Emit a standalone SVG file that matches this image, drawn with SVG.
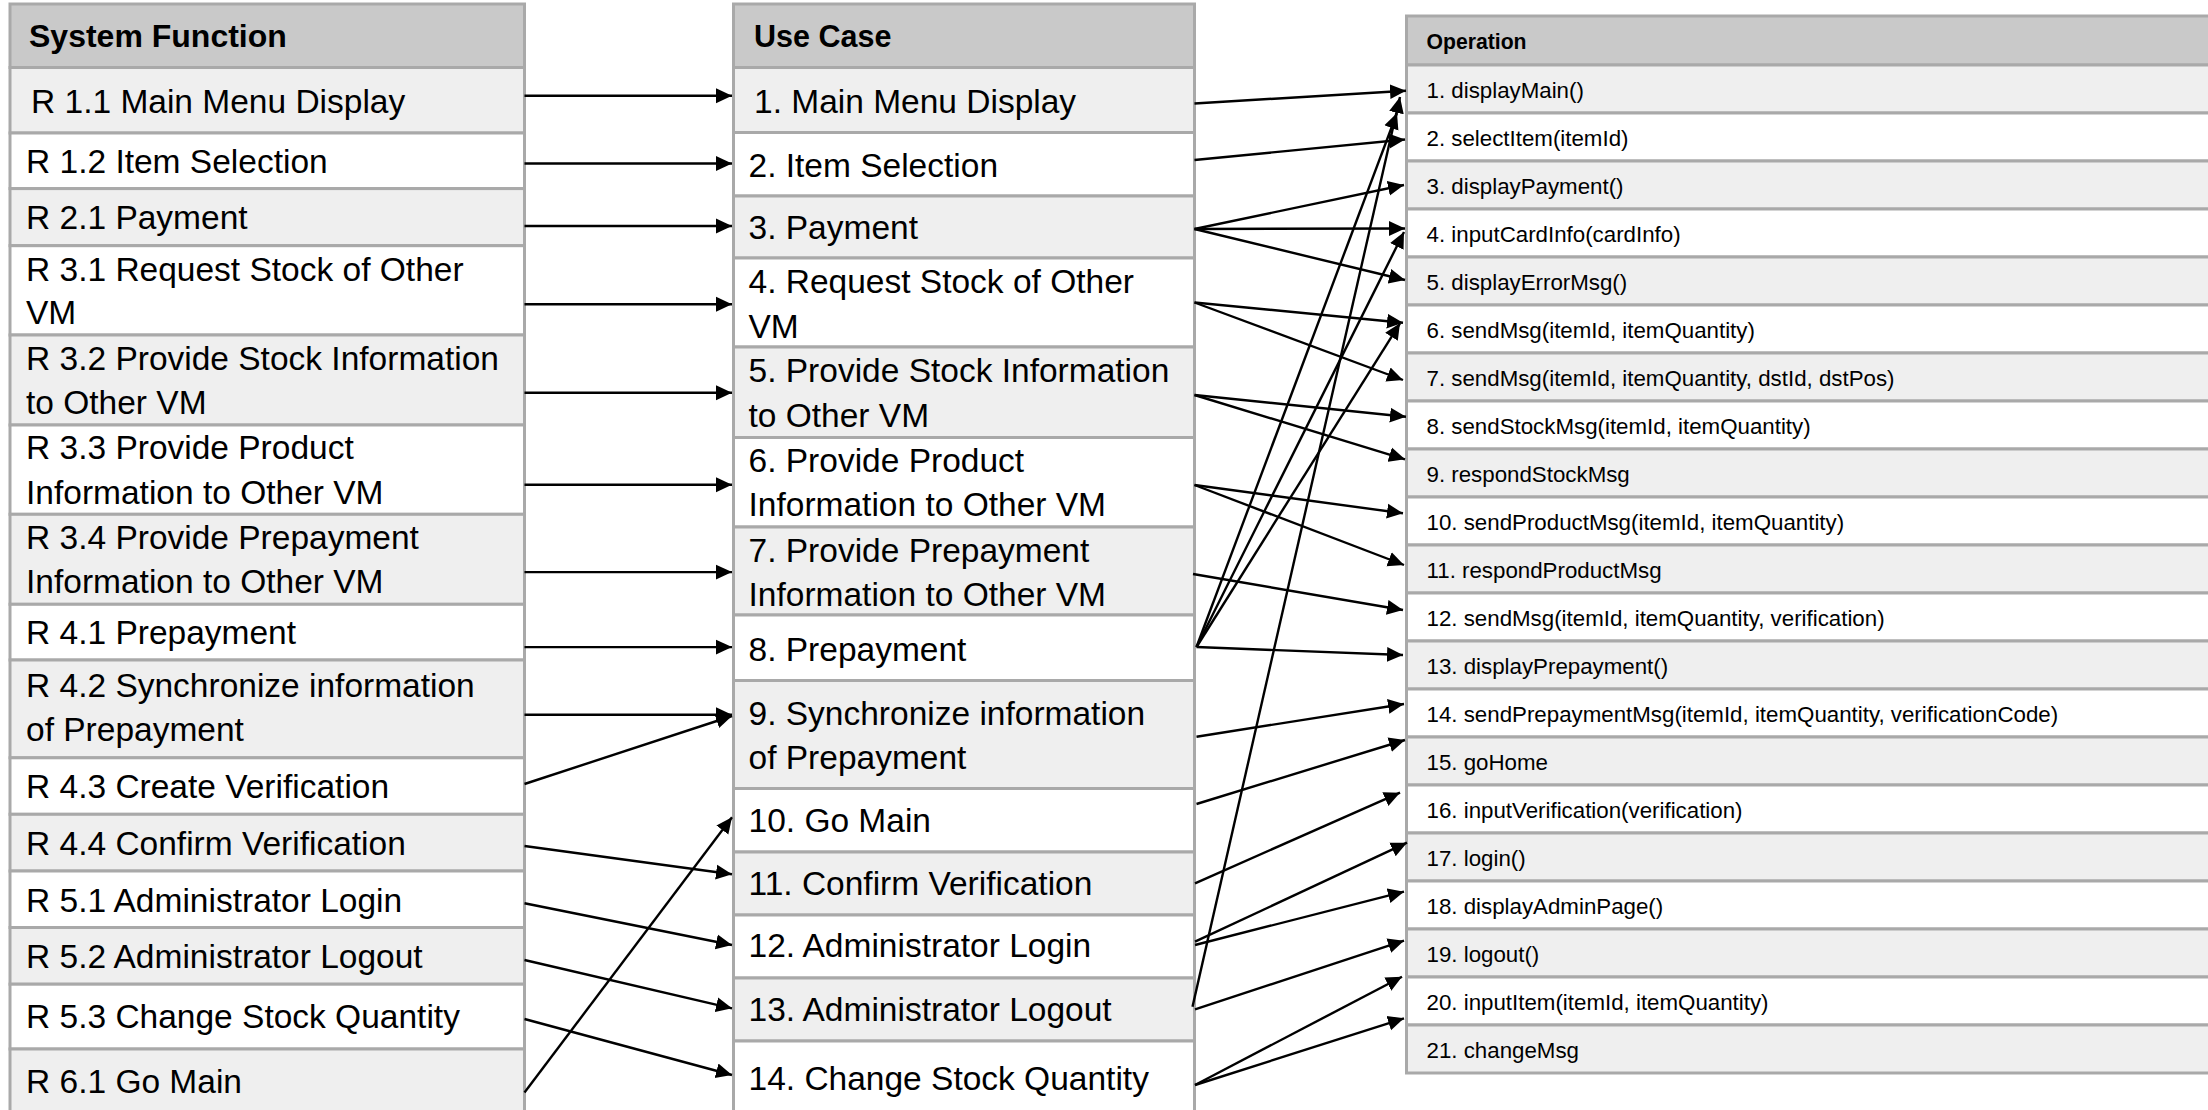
<svg xmlns="http://www.w3.org/2000/svg" width="2208" height="1110" viewBox="0 0 2208 1110">
<defs>
<style>
.hdr{fill:#c9c9c9;stroke:#a9a9a9;stroke-width:3}
.o{fill:#efefef;stroke:#a9a9a9;stroke-width:3}
.e{fill:#ffffff;stroke:#a9a9a9;stroke-width:3}
text{font-family:"Liberation Sans",Arial,sans-serif;fill:#000}
.t{font-size:33.5px}
.th{font-size:31px;font-weight:bold}
.to{font-size:22.3px}
.tho{font-size:21.2px;font-weight:bold}
.c line{stroke:#000;stroke-width:2.4;fill:none;marker-end:url(#ah)}
</style>
<marker id="ah" markerUnits="userSpaceOnUse" markerWidth="16" markerHeight="16" viewBox="0 0 15 14" refX="15" refY="7" orient="auto">
<path d="M0,0 L15,7 L0,14 z" fill="#000"/>
</marker>
</defs>
<rect width="2208" height="1110" fill="#ffffff"/>

<!-- System Function column -->
<g id="sf-header"><rect class="hdr" x="10" y="4" width="514.5" height="63.5"/><text class="th" x="29" y="47" style="font-size:32px">System Function</text></g>
<g id="sf-r11"><rect class="o" x="10" y="67.5" width="514.5" height="65.5"/><text class="t" x="31" y="112.5">R 1.1 Main Menu Display</text></g>
<g id="sf-r12"><rect class="e" x="10" y="133" width="514.5" height="55.6"/><text class="t" x="26" y="173">R 1.2 Item Selection</text></g>
<g id="sf-r21"><rect class="o" x="10" y="188.6" width="514.5" height="57.1"/><text class="t" x="26" y="229">R 2.1 Payment</text></g>
<g id="sf-r31"><rect class="e" x="10" y="245.7" width="514.5" height="89.3"/><text class="t" x="26" y="280.5">R 3.1 Request Stock of Other</text><text class="t" x="26" y="323.5">VM</text></g>
<g id="sf-r32"><rect class="o" x="10" y="335" width="514.5" height="90"/><text class="t" x="26" y="369.5">R 3.2 Provide Stock Information</text><text class="t" x="26" y="414">to Other VM</text></g>
<g id="sf-r33"><rect class="e" x="10" y="425" width="514.5" height="89.3"/><text class="t" x="26" y="459">R 3.3 Provide Product</text><text class="t" x="26" y="504">Information to Other VM</text></g>
<g id="sf-r34"><rect class="o" x="10" y="514.3" width="514.5" height="90"/><text class="t" x="26" y="548.5">R 3.4 Provide Prepayment</text><text class="t" x="26" y="593">Information to Other VM</text></g>
<g id="sf-r41"><rect class="e" x="10" y="604.3" width="514.5" height="55.7"/><text class="t" x="26" y="644">R 4.1 Prepayment</text></g>
<g id="sf-r42"><rect class="o" x="10" y="660" width="514.5" height="97.8"/><text class="t" x="26" y="696.5">R 4.2 Synchronize information</text><text class="t" x="26" y="741">of Prepayment</text></g>
<g id="sf-r43"><rect class="e" x="10" y="757.8" width="514.5" height="56.5"/><text class="t" x="26" y="797.5">R 4.3 Create Verification</text></g>
<g id="sf-r44"><rect class="o" x="10" y="814.3" width="514.5" height="56.7"/><text class="t" x="26" y="855">R 4.4 Confirm Verification</text></g>
<g id="sf-r51"><rect class="e" x="10" y="871" width="514.5" height="56.5"/><text class="t" x="26" y="911.5">R 5.1 Administrator Login</text></g>
<g id="sf-r52"><rect class="o" x="10" y="927.5" width="514.5" height="56.7"/><text class="t" x="26" y="968">R 5.2 Administrator Logout</text></g>
<g id="sf-r53"><rect class="e" x="10" y="984.2" width="514.5" height="64.8"/><text class="t" x="26" y="1027.5">R 5.3 Change Stock Quantity</text></g>
<g id="sf-r61"><rect class="o" x="10" y="1049" width="514.5" height="70"/><text class="t" x="26" y="1092.5">R 6.1 Go Main</text></g>

<!-- Use Case column -->
<g id="uc-header"><rect class="hdr" x="733.5" y="4" width="461" height="63.5"/><text class="th" x="754" y="47" style="font-size:30.5px">Use Case</text></g>
<g id="uc-1"><rect class="o" x="733.5" y="67.5" width="461" height="65"/><text class="t" x="754" y="112.5">1. Main Menu Display</text></g>
<g id="uc-2"><rect class="e" x="733.5" y="132.5" width="461" height="63.5"/><text class="t" x="748.5" y="176.5">2. Item Selection</text></g>
<g id="uc-3"><rect class="o" x="733.5" y="196" width="461" height="62"/><text class="t" x="748.5" y="239">3. Payment</text></g>
<g id="uc-4"><rect class="e" x="733.5" y="258" width="461" height="89"/><text class="t" x="748.5" y="293">4. Request Stock of Other</text><text class="t" x="748.5" y="337.5">VM</text></g>
<g id="uc-5"><rect class="o" x="733.5" y="347" width="461" height="90.5"/><text class="t" x="748.5" y="382">5. Provide Stock Information</text><text class="t" x="748.5" y="427">to Other VM</text></g>
<g id="uc-6"><rect class="e" x="733.5" y="437.5" width="461" height="89.5"/><text class="t" x="748.5" y="472">6. Provide Product</text><text class="t" x="748.5" y="516">Information to Other VM</text></g>
<g id="uc-7"><rect class="o" x="733.5" y="527" width="461" height="88"/><text class="t" x="748.5" y="561.5">7. Provide Prepayment</text><text class="t" x="748.5" y="606">Information to Other VM</text></g>
<g id="uc-8"><rect class="e" x="733.5" y="615" width="461" height="65.5"/><text class="t" x="748.5" y="660.5">8. Prepayment</text></g>
<g id="uc-9"><rect class="o" x="733.5" y="680.5" width="461" height="108"/><text class="t" x="748.5" y="725">9. Synchronize information</text><text class="t" x="748.5" y="768.5">of Prepayment</text></g>
<g id="uc-10"><rect class="e" x="733.5" y="788.5" width="461" height="63.5"/><text class="t" x="748.5" y="832">10. Go Main</text></g>
<g id="uc-11"><rect class="o" x="733.5" y="852" width="461" height="63"/><text class="t" x="748.5" y="894.5">11. Confirm Verification</text></g>
<g id="uc-12"><rect class="e" x="733.5" y="915" width="461" height="63"/><text class="t" x="748.5" y="957">12. Administrator Login</text></g>
<g id="uc-13"><rect class="o" x="733.5" y="978" width="461" height="63"/><text class="t" x="748.5" y="1021">13. Administrator Logout</text></g>
<g id="uc-14"><rect class="e" x="733.5" y="1041" width="461" height="78"/><text class="t" x="748.5" y="1090">14. Change Stock Quantity</text></g>

<!-- Operation column -->
<g id="op-header"><rect class="hdr" x="1406.5" y="16" width="820" height="49"/><text class="tho" x="1426.5" y="49">Operation</text></g>
<g id="op-1"><rect class="o" x="1406.5" y="65" width="820" height="48"/><text class="to" x="1426.5" y="97.5">1. displayMain()</text></g>
<g id="op-2"><rect class="e" x="1406.5" y="113" width="820" height="48"/><text class="to" x="1426.5" y="145.5">2. selectItem(itemId)</text></g>
<g id="op-3"><rect class="o" x="1406.5" y="161" width="820" height="48"/><text class="to" x="1426.5" y="193.5">3. displayPayment()</text></g>
<g id="op-4"><rect class="e" x="1406.5" y="209" width="820" height="48"/><text class="to" x="1426.5" y="241.5">4. inputCardInfo(cardInfo)</text></g>
<g id="op-5"><rect class="o" x="1406.5" y="257" width="820" height="48"/><text class="to" x="1426.5" y="289.5">5. displayErrorMsg()</text></g>
<g id="op-6"><rect class="e" x="1406.5" y="305" width="820" height="48"/><text class="to" x="1426.5" y="337.5">6. sendMsg(itemId, itemQuantity)</text></g>
<g id="op-7"><rect class="o" x="1406.5" y="353" width="820" height="48"/><text class="to" x="1426.5" y="385.5">7. sendMsg(itemId, itemQuantity, dstId, dstPos)</text></g>
<g id="op-8"><rect class="e" x="1406.5" y="401" width="820" height="48"/><text class="to" x="1426.5" y="433.5">8. sendStockMsg(itemId, itemQuantity)</text></g>
<g id="op-9"><rect class="o" x="1406.5" y="449" width="820" height="48"/><text class="to" x="1426.5" y="481.5">9. respondStockMsg</text></g>
<g id="op-10"><rect class="e" x="1406.5" y="497" width="820" height="48"/><text class="to" x="1426.5" y="529.5">10. sendProductMsg(itemId, itemQuantity)</text></g>
<g id="op-11"><rect class="o" x="1406.5" y="545" width="820" height="48"/><text class="to" x="1426.5" y="577.5">11. respondProductMsg</text></g>
<g id="op-12"><rect class="e" x="1406.5" y="593" width="820" height="48"/><text class="to" x="1426.5" y="625.5">12. sendMsg(itemId, itemQuantity, verification)</text></g>
<g id="op-13"><rect class="o" x="1406.5" y="641" width="820" height="48"/><text class="to" x="1426.5" y="673.5">13. displayPrepayment()</text></g>
<g id="op-14"><rect class="e" x="1406.5" y="689" width="820" height="48"/><text class="to" x="1426.5" y="721.5">14. sendPrepaymentMsg(itemId, itemQuantity, verificationCode)</text></g>
<g id="op-15"><rect class="o" x="1406.5" y="737" width="820" height="48"/><text class="to" x="1426.5" y="769.5">15. goHome</text></g>
<g id="op-16"><rect class="e" x="1406.5" y="785" width="820" height="48"/><text class="to" x="1426.5" y="817.5">16. inputVerification(verification)</text></g>
<g id="op-17"><rect class="o" x="1406.5" y="833" width="820" height="48"/><text class="to" x="1426.5" y="865.5">17. login()</text></g>
<g id="op-18"><rect class="e" x="1406.5" y="881" width="820" height="48"/><text class="to" x="1426.5" y="913.5">18. displayAdminPage()</text></g>
<g id="op-19"><rect class="o" x="1406.5" y="929" width="820" height="48"/><text class="to" x="1426.5" y="961.5">19. logout()</text></g>
<g id="op-20"><rect class="e" x="1406.5" y="977" width="820" height="48"/><text class="to" x="1426.5" y="1009.5">20. inputItem(itemId, itemQuantity)</text></g>
<g id="op-21"><rect class="o" x="1406.5" y="1025" width="820" height="48"/><text class="to" x="1426.5" y="1057.5">21. changeMsg</text></g>

<!-- Connectors -->
<g id="connectors" class="c">
<line x1="524.5" y1="95.7" x2="732" y2="95.7"/>
<line x1="524.5" y1="163.5" x2="732" y2="163.5"/>
<line x1="524.5" y1="226" x2="732" y2="226"/>
<line x1="524.5" y1="304.2" x2="732" y2="304.2"/>
<line x1="524.5" y1="392.7" x2="732" y2="392.7"/>
<line x1="524.5" y1="484.8" x2="732" y2="484.8"/>
<line x1="524.5" y1="572.1" x2="732" y2="572.1"/>
<line x1="524.5" y1="647.1" x2="732" y2="647.1"/>
<line x1="524.5" y1="714.7" x2="732" y2="714.7"/>
<line x1="524.5" y1="784" x2="732" y2="716"/>
<line x1="524.5" y1="846" x2="732" y2="874.3"/>
<line x1="524.5" y1="903.3" x2="732" y2="945"/>
<line x1="524.5" y1="960" x2="732" y2="1008.3"/>
<line x1="524.5" y1="1019" x2="732" y2="1075"/>
<line x1="524.5" y1="1092.5" x2="732" y2="817.3"/>

<line x1="1194.5" y1="103.5" x2="1406" y2="90.7"/>
<line x1="1194.5" y1="160" x2="1405" y2="139.5"/>
<line x1="1194.5" y1="229" x2="1404" y2="185"/>
<line x1="1194.5" y1="229" x2="1405" y2="228.5"/>
<line x1="1194.5" y1="229" x2="1405" y2="280"/>
<line x1="1194.5" y1="302.5" x2="1403" y2="322.7"/>
<line x1="1194.5" y1="302.5" x2="1403" y2="380"/>
<line x1="1194.5" y1="395" x2="1406" y2="416.7"/>
<line x1="1194.5" y1="395" x2="1405" y2="459.3"/>
<line x1="1194.5" y1="485" x2="1403" y2="513.3"/>
<line x1="1194.5" y1="485" x2="1404" y2="565"/>
<line x1="1193" y1="574" x2="1403" y2="610"/>
<line x1="1196.5" y1="647" x2="1403" y2="655"/>
<line x1="1196.5" y1="647" x2="1397" y2="113"/>
<line x1="1196.5" y1="647" x2="1404" y2="232"/>
<line x1="1196.5" y1="647" x2="1400" y2="323.3"/>
<line x1="1196.5" y1="736.7" x2="1404" y2="704"/>
<line x1="1196.5" y1="804" x2="1405" y2="740"/>
<line x1="1195" y1="883.3" x2="1400" y2="792.7"/>
<line x1="1195" y1="941.7" x2="1407" y2="842.7"/>
<line x1="1195" y1="945" x2="1404" y2="891.7"/>
<line x1="1195" y1="1009.3" x2="1404" y2="940.7"/>
<line x1="1192.5" y1="1006.7" x2="1400" y2="97"/>
<line x1="1195" y1="1085" x2="1402" y2="976.7"/>
<line x1="1195" y1="1085" x2="1404" y2="1018.3"/>
</g>
</svg>
